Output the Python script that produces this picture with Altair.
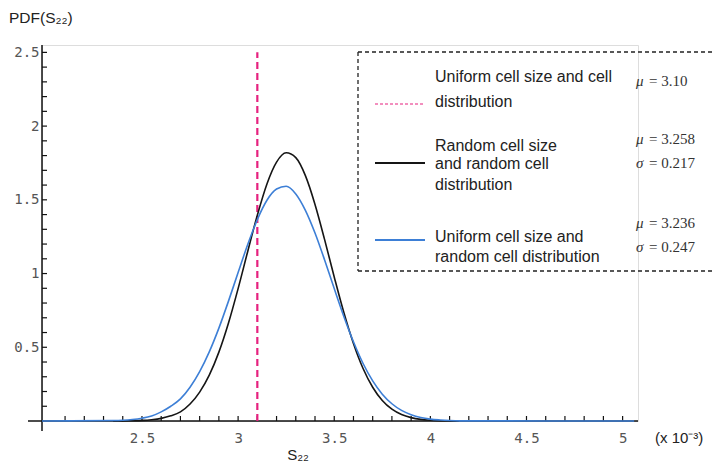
import altair as alt
import pandas as pd

# ---------------- data ----------------
s22 = [2.35, 2.40, 2.45, 2.50, 2.55, 2.60, 2.65, 2.70, 2.75, 2.80, 2.85, 2.90,
       2.95, 3.00, 3.05, 3.10, 3.15, 3.20, 3.25, 3.30, 3.35, 3.40, 3.45, 3.50,
       3.55, 3.60, 3.65, 3.70, 3.75, 3.80, 3.85, 3.90, 3.95, 4.00, 4.05, 4.10, 4.15]
pdf_random_size = [0, 0.001, 0.002, 0.004, 0.009, 0.018, 0.035, 0.062, 0.115, 0.196,
                   0.311, 0.467, 0.665, 0.898, 1.150, 1.396, 1.608, 1.756, 1.819,
                   1.786, 1.664, 1.469, 1.230, 0.977, 0.736, 0.526, 0.356, 0.229,
                   0.139, 0.080, 0.044, 0.023, 0.011, 0.005, 0.002, 0.001, 0]
pdf_uniform_size = [0.003, 0.005, 0.010, 0.019, 0.034, 0.062, 0.100, 0.150, 0.229,
                    0.335, 0.469, 0.630, 0.813, 1.007, 1.197, 1.366, 1.497, 1.573,
                    1.592, 1.540, 1.429, 1.275, 1.092, 0.898, 0.709, 0.537, 0.390,
                    0.272, 0.182, 0.117, 0.072, 0.043, 0.024, 0.013, 0.007, 0.003, 0.001]
blue_baseline_x = [1.98, 5.06]
uniform_mean = 3.10
uniform_line_top = 2.5

x_tick_labels = [2.5, 3, 3.5, 4, 4.5, 5]
y_tick_labels = [0.5, 1, 1.5, 2, 2.5]
x_minor = [round(2.1 + 0.1 * i, 1) for i in range(30)]
y_minor = [round(0.1 * i, 1) for i in range(1, 26)]

legend_labels = [
    ["Uniform cell size and cell", "distribution"],
    ["Random cell size", "and random cell", "distribution"],
    ["Uniform cell size and", "random cell distribution"],
]
stats = [
    [("μ", "= 3.10")],
    [("μ", "= 3.258"), ("σ", "= 0.217")],
    [("μ", "= 3.236"), ("σ", "= 0.247")],
]

# ---------------- layout ----------------
W, H = 596, 376
XDOM = [1.98, 5.08]
YDOM = [0, 2.55]
BLACK = "#151515"
BLUE = "#3d7fd6"
PINK = "#e6217f"
SANS = "Liberation Sans"
MONO = "DejaVu Sans Mono"
SERIF = "Liberation Serif"

xs = alt.Scale(domain=XDOM, nice=False, zero=False)
ys = alt.Scale(domain=YDOM, nice=False, zero=False)

black_df = pd.DataFrame({"x": s22, "y": pdf_random_size})
blue_df = pd.DataFrame({"x": [blue_baseline_x[0]] + s22 + [blue_baseline_x[1]],
                        "y": [0] + pdf_uniform_size + [0]})

dummy = pd.DataFrame({"d": [0]})

# axes (labels only, via Vega-Lite axes)
axes = alt.Chart(black_df).mark_point(opacity=0).encode(
    x=alt.X("x:Q", scale=xs,
            axis=alt.Axis(values=x_tick_labels, format="~g", title=None, grid=False,
                          domain=False, ticks=False, tickSize=0, labelPadding=10,
                          labelFont=MONO, labelFontSize=14, labelColor="#555")),
    y=alt.Y("y:Q", scale=ys,
            axis=alt.Axis(values=y_tick_labels, format="~g", title=None, grid=False,
                          domain=False, ticks=False, tickSize=0, labelPadding=3,
                          labelFont=MONO, labelFontSize=14, labelColor="#555")),
)

# axis lines
x_axis_line = alt.Chart(dummy).mark_rule(color="#111", strokeWidth=1.5).encode(
    x=alt.value(-14), x2=alt.value(W), y=alt.value(H))
y_axis_line = alt.Chart(dummy).mark_rule(color="#111", strokeWidth=1.5).encode(
    x=alt.value(0), y=alt.value(0), y2=alt.value(H + 10))

# ticks drawn inward
x_ticks = alt.Chart(pd.DataFrame({"v": x_minor})).mark_rule(color="#111", strokeWidth=1.2).encode(
    x=alt.X("v:Q", scale=xs), y=alt.value(H), y2=alt.value(H - 5))
y_ticks = alt.Chart(pd.DataFrame({"v": y_minor})).mark_rule(color="#111", strokeWidth=1.2).encode(
    y=alt.Y("v:Q", scale=ys), x=alt.value(0), x2=alt.value(5))

# curves
black_line = alt.Chart(black_df).mark_line(color=BLACK, strokeWidth=1.6, interpolate="monotone").encode(
    x=alt.X("x:Q", scale=xs), y=alt.Y("y:Q", scale=ys))
blue_line = alt.Chart(blue_df).mark_line(color=BLUE, strokeWidth=1.6, interpolate="monotone").encode(
    x=alt.X("x:Q", scale=xs), y=alt.Y("y:Q", scale=ys))

pink_line = alt.Chart(pd.DataFrame({"x": [uniform_mean], "y0": [0], "y1": [uniform_line_top]})).mark_rule(
    color=PINK, strokeWidth=2.2, strokeDash=[7, 4]).encode(
    x=alt.X("x:Q", scale=xs), y=alt.Y("y0:Q", scale=ys), y2="y1:Q")


def txt(s, x, y, size=16, font=SANS, align="left", italic=False, color="#222", baseline="middle"):
    kw = dict(align=align, baseline=baseline, font=font, fontSize=size, color=color)
    if italic:
        kw["fontStyle"] = "italic"
    return alt.Chart(dummy).mark_text(**kw).encode(
        x=alt.value(x), y=alt.value(y), text=alt.value(s))


def hline(x1, x2, y, color, dash=None, width=1.5):
    kw = dict(color=color, strokeWidth=width)
    if dash:
        kw["strokeDash"] = dash
    return alt.Chart(dummy).mark_rule(**kw).encode(x=alt.value(x1), x2=alt.value(x2), y=alt.value(y))


def vline(x, y1, y2, color, dash=None, width=1.5):
    kw = dict(color=color, strokeWidth=width)
    if dash:
        kw["strokeDash"] = dash
    return alt.Chart(dummy).mark_rule(**kw).encode(x=alt.value(x), y=alt.value(y1), y2=alt.value(y2))


# legend box
BL, BR, BT, BB = 316, 676, 7, 226
box = [
    hline(BL, BR, BT, "#222", [4, 3], 1.3),
    hline(BL, BR, BB, "#222", [4, 3], 1.3),
    vline(BL, BT, BB, "#222", [4, 3], 1.3),
    vline(BR, BT, BB, "#ccc", [2, 2], 1.0),
]

legend_marks = [
    hline(333, 383, 59, PINK, [3, 2], 1.2),
    hline(333, 383, 118, BLACK, None, 1.8),
    hline(333, 383, 195, BLUE, None, 1.8),
]
text_rows = [[32, 57], [101, 119, 140], [192, 212]]
for lines, rows in zip(legend_labels, text_rows):
    for s, yy in zip(lines, rows):
        legend_marks.append(txt(s, 393, yy, 16))

stat_rows = [[36], [94, 118], [178, 202]]
for group, rows in zip(stats, stat_rows):
    for (sym, val), yy in zip(group, rows):
        legend_marks.append(txt(sym, 594, yy, 15, SERIF, italic=True, color="#333"))
        legend_marks.append(txt(val, 607, yy, 15, SERIF, color="#333"))

titles = [
    txt("PDF(S₂₂)", -33, -27, 15.5, SANS, color="#222"),
    txt("S₂₂", 256, 410, 15, SANS, align="center", color="#222"),
    txt("(x 10⁻³)", 613, 393, 15, SANS, color="#222"),
]

chart = alt.layer(
    axes, x_ticks, y_ticks, x_axis_line, y_axis_line,
    pink_line, black_line, blue_line,
    *box, *legend_marks, *titles,
).properties(
    width=W, height=H,
    autosize=alt.AutoSizeParams(type="none"),
    padding={"left": 34, "top": 37, "right": 75, "bottom": 44},
).configure_view(stroke=None).configure(background="white")

chart.save("out.html", embed_options={"renderer": "svg", "actions": False})
